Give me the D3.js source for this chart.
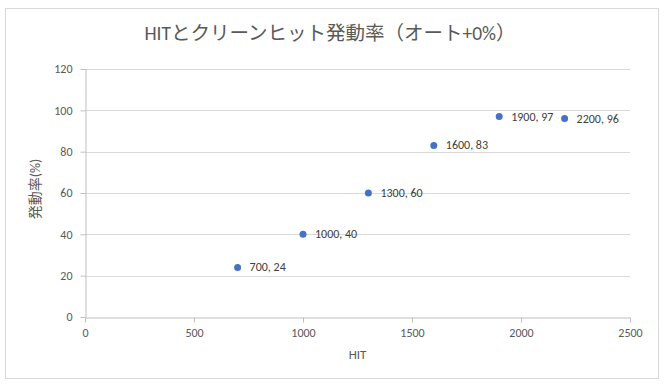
<!DOCTYPE html>
<html>
<head>
<meta charset="utf-8">
<script src="https://cdn.jsdelivr.net/npm/d3@7"></script>
<style>
  body { margin: 0; background: #fff; }
  text { font-family: Carlito, "Liberation Sans", "Noto Sans CJK JP", sans-serif; }
</style>
</head>
<body>
<div id="container"></div>
<script>
/* DATA */
const hitValues = [700, 1000, 1300, 1600, 1900, 2200];
const rateValues = [24, 40, 60, 83, 97, 96];
const xTicks = [0, 500, 1000, 1500, 2000, 2500];
const yTicks = [0, 20, 40, 60, 80, 100, 120];

const width = 665;
const height = 385;
const margin = { top: 69, right: 35, bottom: 68, left: 85 };

const points = hitValues.map((h, i) => ({ hit: h, rate: rateValues[i] }));

const svg = d3.select("#container")
  .append("svg")
  .attr("width", width)
  .attr("height", height);

// outer chart border
svg.append("rect")
  .attr("x", 5.5).attr("y", 8.5)
  .attr("width", 653).attr("height", 370)
  .attr("fill", "#fff")
  .attr("stroke", "#d9d9d9");

/* SCALES */
const xScale = d3.scaleLinear()
  .domain([0, 2500])
  .range([margin.left, width - margin.right]);

const yScale = d3.scaleLinear()
  .domain([0, 120])
  .range([height - margin.bottom, margin.top]);

// gridlines
svg.append("g")
  .selectAll("line")
  .data(yTicks.filter(d => d > 0))
  .join("line")
  .attr("x1", xScale(0))
  .attr("x2", xScale(2500))
  .attr("y1", d => Math.round(yScale(d)) + 0.5)
  .attr("y2", d => Math.round(yScale(d)) + 0.5)
  .attr("stroke", "#d9d9d9");

// X-axis
const xAxis = svg.append("g")
  .attr("transform", `translate(0,${Math.round(yScale(0)) + 0.5})`)
  .call(d3.axisBottom(xScale).tickValues(xTicks).tickFormat(d3.format("d"))
    .tickSize(5).tickPadding(6).tickSizeOuter(0));

// Y-axis
const yAxis = svg.append("g")
  .attr("transform", `translate(${Math.round(xScale(0)) + 0.5},0)`)
  .call(d3.axisLeft(yScale).tickValues(yTicks).tickSize(5).tickPadding(8).tickSizeOuter(0));

[xAxis, yAxis].forEach(a => {
  a.select(".domain").attr("stroke", "#bfbfbf");
  a.selectAll(".tick line").attr("stroke", "#bfbfbf");
  a.selectAll(".tick text")
    .attr("fill", "#595959")
    .style("font-size", "12px");
});

// Title
svg.append("text")
  .attr("x", 330)
  .attr("y", 40)
  .attr("text-anchor", "middle")
  .attr("fill", "#595959")
  .style("font-size", "19.5px")
  .text("HITとクリーンヒット発動率（オート+0%）");

// Axis titles
svg.append("text")
  .attr("x", xScale(1250))
  .attr("y", 359)
  .attr("text-anchor", "middle")
  .attr("fill", "#595959")
  .style("font-size", "13px")
  .text("HIT");

svg.append("text")
  .attr("transform", `translate(40,189) rotate(-90)`)
  .attr("text-anchor", "middle")
  .attr("fill", "#595959")
  .style("font-size", "14px")
  .text("発動率(%)");

// Scatter points
const pt = svg.selectAll(".pt")
  .data(points)
  .join("g")
  .attr("class", "pt");

pt.append("circle")
  .attr("cx", d => xScale(d.hit))
  .attr("cy", d => yScale(d.rate))
  .attr("r", 3.5)
  .attr("fill", "#4472c4");

pt.append("text")
  .attr("x", d => xScale(d.hit) + 12)
  .attr("y", d => yScale(d.rate) + 4)
  .attr("fill", "#404040")
  .style("font-size", "12px")
  .text(d => `${d.hit}, ${d.rate}`);
</script>
</body>
</html>
